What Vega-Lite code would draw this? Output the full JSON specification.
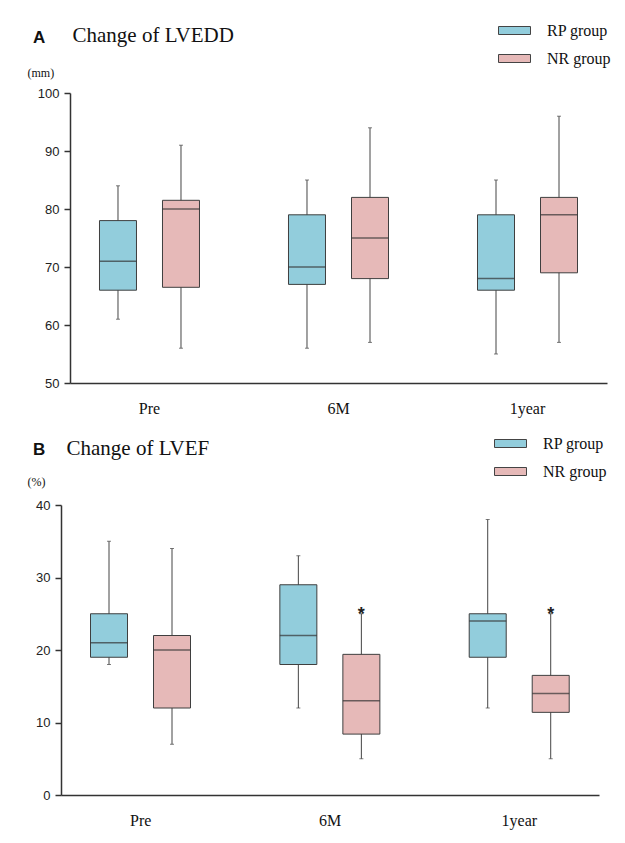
{
  "$schema": "https://vega.github.io/schema/vega-lite/v6.json",
  "padding": {"left": 27, "top": 14, "right": 5, "bottom": 5},
  "background": "white",
  "datasets": {
    "lvedd": [
      {"time": "Pre", "group": "RP group", "min": 61, "q1": 66, "median": 71, "q3": 78, "max": 84},
      {"time": "Pre", "group": "NR group", "min": 56, "q1": 66.5, "median": 80, "q3": 81.5, "max": 91},
      {"time": "6M", "group": "RP group", "min": 56, "q1": 67, "median": 70, "q3": 79, "max": 85},
      {"time": "6M", "group": "NR group", "min": 57, "q1": 68, "median": 75, "q3": 82, "max": 94},
      {"time": "1year", "group": "RP group", "min": 55, "q1": 66, "median": 68, "q3": 79, "max": 85},
      {"time": "1year", "group": "NR group", "min": 57, "q1": 69, "median": 79, "q3": 82, "max": 96}
    ],
    "lvef": [
      {"time": "Pre", "group": "RP group", "min": 18, "q1": 19, "median": 21, "q3": 25, "max": 35, "sig": ""},
      {"time": "Pre", "group": "NR group", "min": 7, "q1": 12, "median": 20, "q3": 22, "max": 34, "sig": ""},
      {"time": "6M", "group": "RP group", "min": 12, "q1": 18, "median": 22, "q3": 29, "max": 33, "sig": ""},
      {"time": "6M", "group": "NR group", "min": 5, "q1": 8.4, "median": 13, "q3": 19.4, "max": 25, "sig": "*"},
      {"time": "1year", "group": "RP group", "min": 12, "q1": 19, "median": 24, "q3": 25, "max": 38, "sig": ""},
      {"time": "1year", "group": "NR group", "min": 5, "q1": 11.4, "median": 14, "q3": 16.5, "max": 25, "sig": "*"}
    ]
  },
  "config": {
    "view": {"stroke": null},
    "font": "Liberation Serif",
    "axis": {
      "domainColor": "#333333",
      "domainWidth": 1.5,
      "grid": false
    },
    "axisX": {
      "ticks": false,
      "labelFont": "Liberation Serif",
      "labelFontSize": 16,
      "labelColor": "#111111",
      "labelPadding": 17,
      "labelAngle": 0
    },
    "axisY": {
      "tickColor": "#333333",
      "tickSize": 6,
      "tickWidth": 1.5,
      "labelFont": "Liberation Sans",
      "labelFontSize": 13,
      "labelColor": "#222222",
      "labelPadding": 5,
      "titleFont": "Liberation Serif",
      "titleFontSize": 12,
      "titleFontWeight": "normal",
      "titleColor": "#111111",
      "titleAngle": 0,
      "titleAlign": "left",
      "titleBaseline": "middle"
    },
    "legend": {
      "orient": "none",
      "symbolType": "M-1,-0.25L1,-0.25L1,0.25L-1,0.25Z",
      "symbolSize": 1024,
      "symbolStrokeColor": "#444444",
      "symbolStrokeWidth": 1,
      "labelFont": "Liberation Serif",
      "labelFontSize": 16,
      "labelColor": "#111111",
      "labelOffset": 16,
      "rowPadding": 3,
      "title": null
    },
    "title": {
      "anchor": "start",
      "frame": "group",
      "font": "Liberation Sans",
      "fontSize": 17,
      "fontWeight": "bold",
      "color": "#111111"
    }
  },
  "resolve": {"legend": {"color": "independent"}},
  "spacing": 11,
  "vconcat": [
    {
      "width": 546,
      "height": 290,
      "title": {"text": "A", "dx": -28, "offset": -33},
      "data": {"name": "lvedd"},
      "resolve": {"axis": {"x": "independent"}},
      "encoding": {
        "x": {"field": "time", "type": "nominal", "sort": ["Pre", "6M", "1year"], "title": null,
              "scale": {"range": [9, 546], "paddingInner": 0.2, "paddingOuter": 0.0206}},
        "xOffset": {"field": "group", "type": "nominal", "sort": ["RP group", "NR group"],
                    "scale": {"paddingInner": 0, "paddingOuter": 0.2}}
      },
      "layer": [
        {
          "mark": {"type": "rule", "color": "#444444", "strokeWidth": 1},
          "encoding": {
            "y": {"field": "min", "type": "quantitative",
                  "scale": {"domain": [50, 100], "nice": false, "zero": false},
                  "axis": {"values": [50, 60, 70, 80, 90, 100], "offset": -9, "title": "(mm)", "titleX": -43, "titleY": -21}},
            "y2": {"field": "max"}
          }
        },
        {
          "mark": {"type": "tick", "color": "#444444", "size": 4, "thickness": 1},
          "encoding": {
            "x": {"field": "time", "type": "nominal", "sort": ["Pre", "6M", "1year"], "axis": null},
            "y": {"field": "min", "type": "quantitative"}
          }
        },
        {
          "mark": {"type": "tick", "color": "#444444", "size": 4, "thickness": 1},
          "encoding": {
            "x": {"field": "time", "type": "nominal", "sort": ["Pre", "6M", "1year"], "axis": null},
            "y": {"field": "max", "type": "quantitative"}
          }
        },
        {
          "mark": {"type": "bar", "width": 37, "stroke": "#3f3f3f", "strokeWidth": 1, "opacity": 1},
          "encoding": {
            "x": {"field": "time", "type": "nominal", "sort": ["Pre", "6M", "1year"], "axis": null},
            "y": {"field": "q1", "type": "quantitative"},
            "y2": {"field": "q3"},
            "color": {"field": "group", "type": "nominal",
                      "scale": {"domain": ["RP group", "NR group"], "range": ["#92CDDC", "#E6B9B8"]},
                      "legend": {"legendX": 437, "legendY": -79}}
          }
        },
        {
          "mark": {"type": "tick", "color": "#333333", "size": 37, "thickness": 1.5},
          "encoding": {
            "x": {"field": "time", "type": "nominal", "sort": ["Pre", "6M", "1year"],
                  "axis": {"orient": "top", "domain": false, "labels": false, "ticks": false,
                           "title": "Change of LVEDD", "titleFont": "Liberation Serif", "titleFontSize": 21,
                           "titleFontWeight": "normal", "titleColor": "#111111", "titleAnchor": "start",
                           "titleAlign": "left", "titleBaseline": "middle", "titleX": 11, "titleY": -58}},
            "y": {"field": "median", "type": "quantitative"}
          }
        }
      ]
    },
    {
      "width": 546,
      "height": 290,
      "title": {"text": "B", "dx": -28, "offset": -32},
      "data": {"name": "lvef"},
      "resolve": {"axis": {"x": "independent"}},
      "encoding": {
        "x": {"field": "time", "type": "nominal", "sort": ["Pre", "6M", "1year"], "title": null,
              "scale": {"range": [0, 538], "paddingInner": 0.2, "paddingOuter": 0.0206}},
        "xOffset": {"field": "group", "type": "nominal", "sort": ["RP group", "NR group"],
                    "scale": {"paddingInner": 0, "paddingOuter": 0.2}}
      },
      "layer": [
        {
          "mark": {"type": "rule", "color": "#444444", "strokeWidth": 1},
          "encoding": {
            "y": {"field": "min", "type": "quantitative",
                  "scale": {"domain": [0, 40], "nice": false},
                  "axis": {"values": [0, 10, 20, 30, 40], "title": "(%)", "titleX": -34, "titleY": -24}},
            "y2": {"field": "max"}
          }
        },
        {
          "mark": {"type": "tick", "color": "#444444", "size": 4, "thickness": 1},
          "encoding": {
            "x": {"field": "time", "type": "nominal", "sort": ["Pre", "6M", "1year"], "axis": null},
            "y": {"field": "min", "type": "quantitative"}
          }
        },
        {
          "mark": {"type": "tick", "color": "#444444", "size": 4, "thickness": 1},
          "encoding": {
            "x": {"field": "time", "type": "nominal", "sort": ["Pre", "6M", "1year"], "axis": null},
            "y": {"field": "max", "type": "quantitative"}
          }
        },
        {
          "mark": {"type": "bar", "width": 37, "stroke": "#3f3f3f", "strokeWidth": 1, "opacity": 1},
          "encoding": {
            "x": {"field": "time", "type": "nominal", "sort": ["Pre", "6M", "1year"], "axis": null},
            "y": {"field": "q1", "type": "quantitative"},
            "y2": {"field": "q3"},
            "color": {"field": "group", "type": "nominal",
                      "scale": {"domain": ["RP group", "NR group"], "range": ["#92CDDC", "#E6B9B8"]},
                      "legend": {"legendX": 433, "legendY": -78}}
          }
        },
        {
          "mark": {"type": "tick", "color": "#333333", "size": 37, "thickness": 1.5},
          "encoding": {
            "x": {"field": "time", "type": "nominal", "sort": ["Pre", "6M", "1year"],
                  "axis": {"orient": "top", "domain": false, "labels": false, "ticks": false,
                           "title": "Change of LVEF", "titleFont": "Liberation Serif", "titleFontSize": 21,
                           "titleFontWeight": "normal", "titleColor": "#111111", "titleAnchor": "start",
                           "titleAlign": "left", "titleBaseline": "middle", "titleX": 5, "titleY": -57}},
            "y": {"field": "median", "type": "quantitative"}
          }
        },
        {
          "mark": {"type": "text", "font": "Liberation Sans", "fontSize": 18, "fontWeight": "bold", "color": "#222222", "baseline": "alphabetic", "dy": 6},
          "encoding": {
            "x": {"field": "time", "type": "nominal", "sort": ["Pre", "6M", "1year"], "axis": null},
            "y": {"field": "max", "type": "quantitative"},
            "text": {"field": "sig"}
          }
        }
      ]
    }
  ]
}
